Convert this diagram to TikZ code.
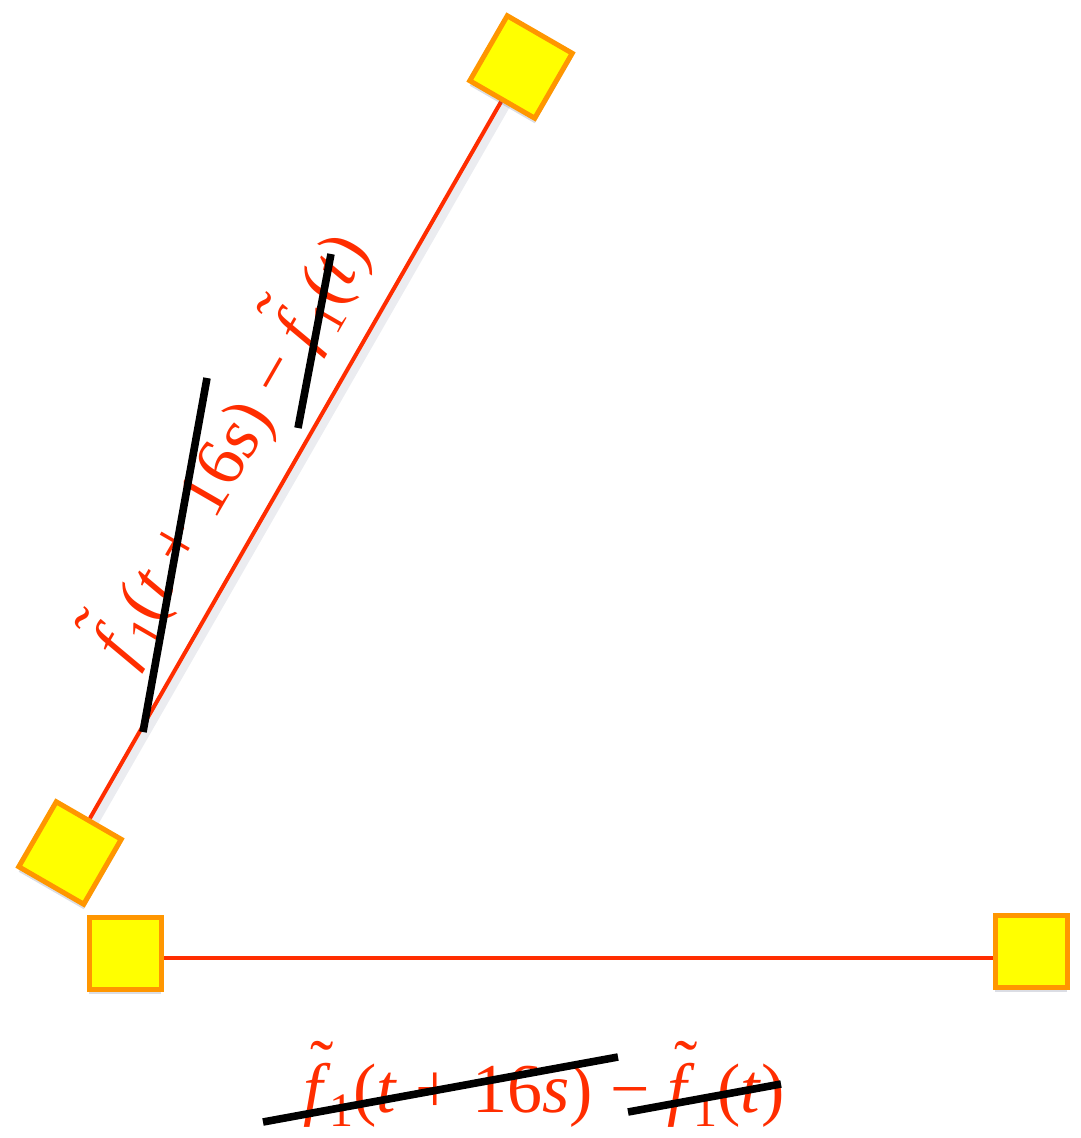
\documentclass[tikz,border=0pt]{standalone}
\usepackage{fontspec}
\setmainfont{Liberation Serif}
\usetikzlibrary{shadows,calc,backgrounds}
\definecolor{lineRed}{RGB}{255,45,0}
\definecolor{sqYellow}{RGB}{255,255,0}
\definecolor{sqOrange}{RGB}{255,150,0}
\definecolor{shadowBlue}{RGB}{90,100,130}
\newcommand{\tfone}{\textit{f}\llap{\raisebox{0.33em}{\symbol{"02DC}}\kern-0.04em}\kern-0.02em\raisebox{-0.2em}{\fontsize{24}{24}\selectfont 1}}
\begin{document}
\begin{tikzpicture}[x=0.5pt,y=-0.5pt]
\useasboundingbox (0,0) rectangle (1080,1138);
\tikzset{
 sq/.style={rectangle,draw=sqOrange,fill=sqYellow,line width=2.5pt,inner sep=0pt,minimum size=36pt,
   drop shadow={shadow xshift=0pt,shadow yshift=-2.5pt,opacity=0.22,fill=shadowBlue}},
 link/.style={draw=lineRed,line width=2pt},
 strike/.style={line width=3.8pt,black},
 lbl/.style={text=lineRed,font=\fontsize{35}{40}\selectfont,inner sep=0pt}
}
% squares
\node[sq,minimum size=37.5pt,rotate=60] (a) at (70,853) {};
\node[sq,minimum size=37.5pt,rotate=60] (b) at (521,67) {};
\node[sq] (c) at (125,953) {};
\node[sq] (d) at (1031,951) {};
% links
\begin{scope}[on background layer]
\draw[line width=5pt,shadowBlue,opacity=0.12] ([xshift=3pt]a.center) -- ([xshift=3pt]b.center);
\draw[link] (a) -- (b);
\draw[link] ([yshift=-2.5pt]c.center) -- ([yshift=-3.5pt]d.center);
\end{scope}
% labels
\node[lbl,anchor=base] (botlbl) at (544,1112) {\tfone(\textit{t} + 16\textit{s}) − \tfone(\textit{t})};
\node[lbl,anchor=base,rotate=60] (diaglbl) at (250,459) {\tfone(\textit{t} + 16\textit{s}) − \tfone(\textit{t})};
% strike-outs
\draw[strike] (263,1122) -- (618,1057);
\draw[strike] (628,1112) -- (781,1084);
\draw[strike] (143,732) -- (207,378);
\draw[strike] (298,428) -- (331,254);
\end{tikzpicture}
\end{document}
